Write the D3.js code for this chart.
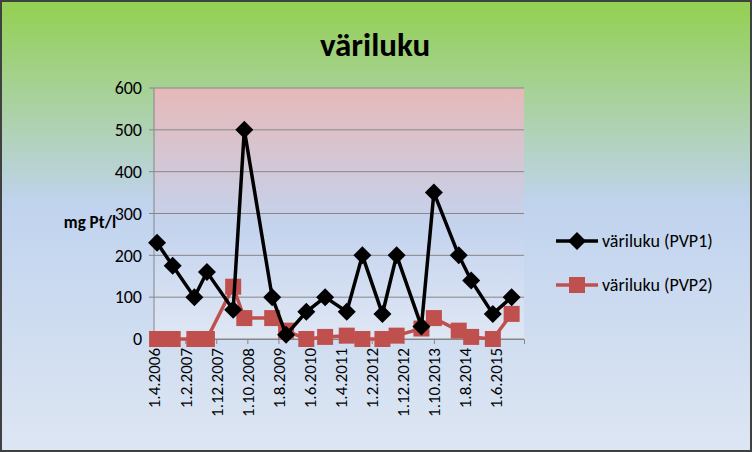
<!DOCTYPE html>
<html><head><meta charset="utf-8">
<script src="https://cdn.jsdelivr.net/npm/d3@7"></script>
<style>body{margin:0;}svg{display:block;font-family:Calibri,Carlito,"Liberation Sans",sans-serif;}</style>
</head><body><div id="chart"></div>
<script>
// Data
const dates = ["2006-05-01","2006-10-01","2007-05-01","2007-09-01","2008-05-15","2008-09-01","2009-06-01","2009-10-15","2010-05-01","2010-11-01",
  "2011-06-01","2011-11-01","2012-05-15","2012-10-01","2013-06-01","2013-10-01","2014-06-01","2014-10-01","2015-05-01","2015-11-01"];
const pvp1 = [230,175,100,160,70,500,100,10,65,100,65,200,60,200,30,350,200,140,60,100];
const pvp2 = [0,0,0,0,125,50,50,20,0,5,8,0,0,8,25,50,20,5,0,60];
const yTicks = [0,100,200,300,400,500,600];
const xTickDates = ["2006-04-01","2007-02-01","2007-12-01","2008-10-01","2009-08-01","2010-06-01","2011-04-01","2012-02-01","2012-12-01","2013-10-01","2014-08-01","2015-06-01"];

const W = 752, H = 452;
const FONT = "Calibri,Carlito,'Liberation Sans',sans-serif";
const parse = d3.timeParse("%Y-%m-%d");
const svg = d3.select("#chart").append("svg").attr("width", W).attr("height", H);
const defs = svg.append("defs");

const bg = defs.append("linearGradient").attr("id", "bg").attr("x1", 0).attr("y1", 0).attr("x2", 0).attr("y2", 1);
bg.append("stop").attr("offset", "0%").attr("stop-color", "#92d050");
bg.append("stop").attr("offset", "45%").attr("stop-color", "#c0d3ee");
bg.append("stop").attr("offset", "100%").attr("stop-color", "#dde6f3");
const pg = defs.append("linearGradient").attr("id", "pg").attr("x1", 0).attr("y1", 0).attr("x2", 0).attr("y2", 1);
pg.append("stop").attr("offset", "0%").attr("stop-color", "#e6b9b8");
pg.append("stop").attr("offset", "55%").attr("stop-color", "#c4d3ee");
pg.append("stop").attr("offset", "100%").attr("stop-color", "#dfe7f4");

svg.append("rect").attr("x", 1).attr("y", 1).attr("width", W - 2).attr("height", H - 2)
  .attr("fill", "url(#bg)").attr("stroke", "#404040").attr("stroke-width", 2);

const margin = { left: 154, right: 228, top: 88, bottom: 113 };
const x = d3.scaleTime().domain([parse("2006-04-01"), parse("2016-03-01")]).range([margin.left, W - margin.right]);
const y = d3.scaleLinear().domain([0, 600]).range([H - margin.bottom, margin.top]);

svg.append("rect").attr("x", margin.left).attr("y", margin.top)
  .attr("width", x.range()[1] - margin.left).attr("height", y(0) - margin.top).attr("fill", "url(#pg)");

// gridlines
svg.append("g").selectAll("line").data(yTicks).join("line")
  .attr("x1", margin.left - 5).attr("x2", x.range()[1]).attr("y1", d => y(d)).attr("y2", d => y(d))
  .attr("stroke", "#868686").attr("stroke-width", 1);
svg.append("line").attr("x1", margin.left).attr("x2", margin.left).attr("y1", margin.top).attr("y2", y(0))
  .attr("stroke", "#868686");

const yAxis = svg.append("g").attr("transform", `translate(${margin.left},0)`)
  .call(d3.axisLeft(y).tickValues(yTicks).tickSize(5).tickPadding(7));
yAxis.select(".domain").remove();
yAxis.selectAll("line").remove();
yAxis.selectAll("text").attr("font-size", 18).attr("fill", "#000").style("font-family", FONT);

const xAxis = svg.append("g").attr("transform", `translate(0,${y(0)})`)
  .call(d3.axisBottom(x).tickValues(xTickDates.map(parse)).tickFormat(d3.timeFormat("1.%-m.%Y")).tickSize(5));
xAxis.select(".domain").attr("stroke", "#868686");
xAxis.selectAll("line").attr("stroke", "#868686");
xAxis.selectAll("text").attr("font-size", 17).attr("fill", "#000")
  .style("font-family", FONT)
  .attr("transform", "rotate(-90)").attr("text-anchor", "end").attr("x", -9).attr("y", 0).attr("dy", "0.35em");

const line = d3.line().x((d, i) => x(parse(dates[i]))).y(d => y(d));
const diamond = "M0,-9L9,0L0,9L-9,0Z";

svg.append("path").datum(pvp2).attr("d", line).attr("fill", "none").attr("stroke", "#c0504d").attr("stroke-width", 3.5);
svg.append("g").selectAll("rect").data(pvp2).join("rect")
  .attr("x", (d, i) => x(parse(dates[i])) - 8).attr("y", d => y(d) - 8).attr("width", 16).attr("height", 16)
  .attr("fill", "#c0504d");

svg.append("path").datum(pvp1).attr("d", line).attr("fill", "none").attr("stroke", "#000").attr("stroke-width", 3.5);
svg.append("g").selectAll("path").data(pvp1).join("path")
  .attr("d", diamond)
  .attr("transform", (d, i) => `translate(${x(parse(dates[i]))},${y(d)})`).attr("fill", "#000");

// title and labels
svg.append("text").attr("x", 375).attr("y", 56).attr("text-anchor", "middle")
  .attr("font-size", 33).attr("font-weight", "bold").text("väriluku");
svg.append("text").attr("x", 90).attr("y", 228).attr("text-anchor", "middle")
  .attr("font-size", 17).attr("font-weight", "bold").text("mg Pt/l");

// legend
const legend = [{ name: "väriluku (PVP1)", c: "#000", sym: "d" }, { name: "väriluku (PVP2)", c: "#c0504d", sym: "s" }];
const lg = svg.append("g").selectAll("g").data(legend).join("g")
  .attr("transform", (d, i) => `translate(556,${241 + i * 44})`);
lg.append("line").attr("x1", 0).attr("x2", 42).attr("stroke", d => d.c).attr("stroke-width", 3.5);
lg.append("path").attr("d", d => d.sym === "d" ? diamond : "M-8,-8h16v16h-16z")
  .attr("transform", "translate(21,0)").attr("fill", d => d.c);
lg.append("text").attr("x", 46).attr("dy", "0.35em").attr("font-size", 18).text(d => d.name);
</script></body></html>
